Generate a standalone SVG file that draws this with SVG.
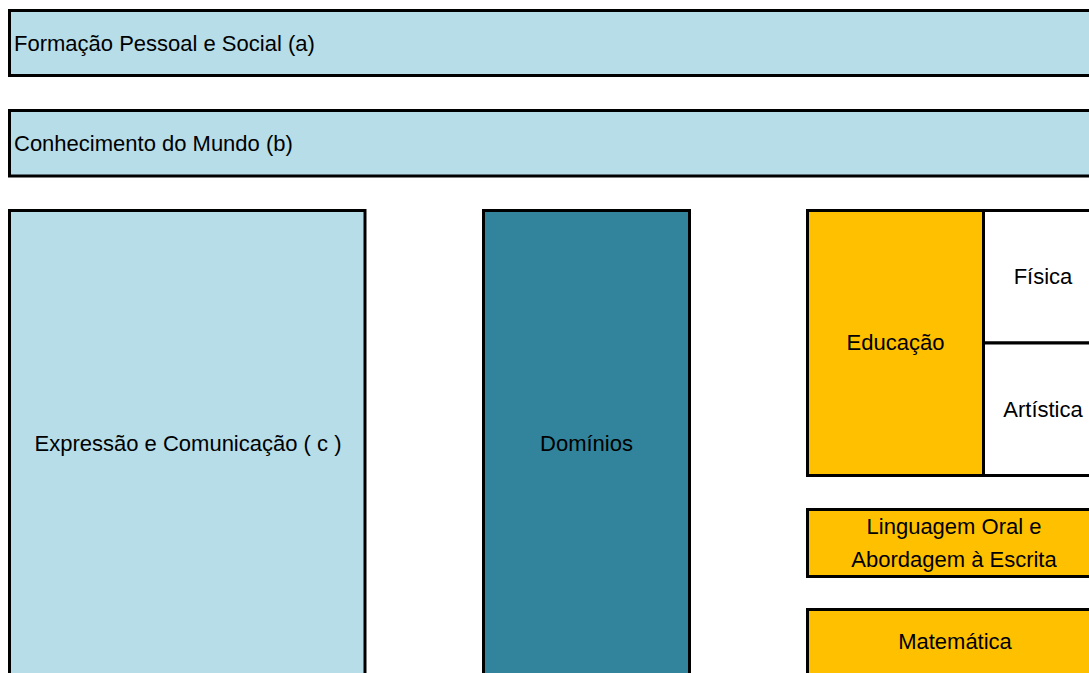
<svg xmlns="http://www.w3.org/2000/svg" width="1089" height="673" viewBox="0 0 1089 673">
<style>
.box{stroke:#000;stroke-width:3}
.light{fill:#B7DDE8}
.teal{fill:#31849B}
.gold{fill:#FFC000}
.white{fill:#FFFFFF}
text{font-family:"Liberation Sans",Arial,sans-serif;font-size:22px;fill:#000}
.c{text-anchor:middle}
</style>
<rect width="1089" height="673" fill="#FFFFFF"/>
<g id="formacao">
<rect class="box light" x="9.5" y="10.5" width="1100" height="65"/>
<text x="14" y="51">Formação Pessoal e Social (a)</text>
</g>
<g id="conhecimento">
<rect class="box light" x="9.5" y="110.5" width="1100" height="65.5"/>
<text x="14" y="151">Conhecimento do Mundo (b)</text>
</g>
<g id="expressao">
<rect class="box light" x="9.5" y="210.5" width="355.5" height="500"/>
<text class="c" x="188" y="451">Expressão e Comunicação ( c )</text>
</g>
<g id="dominios">
<rect class="box teal" x="483.5" y="210.5" width="206" height="500"/>
<text class="c" x="586.5" y="451">Domínios</text>
</g>
<g id="educacao">
<rect class="box gold" x="807.5" y="210.5" width="176" height="265"/>
<text class="c" x="895.5" y="350">Educação</text>
</g>
<g id="fisica">
<rect class="box white" x="983.5" y="210.5" width="119" height="132.5"/>
<text class="c" x="1043" y="284">Física</text>
</g>
<g id="artistica">
<rect class="box white" x="983.5" y="343" width="119" height="132.5"/>
<text class="c" x="1043" y="417">Artística</text>
</g>
<g id="linguagem">
<rect class="box gold" x="807.5" y="509.5" width="293" height="67"/>
<text class="c" x="954" y="534">Linguagem Oral e</text>
<text class="c" x="954" y="567">Abordagem à Escrita</text>
</g>
<g id="matematica">
<rect class="box gold" x="807.5" y="609.5" width="293" height="100"/>
<text class="c" x="955" y="649">Matemática</text>
</g>
<g id="connectors"></g>
</svg>
